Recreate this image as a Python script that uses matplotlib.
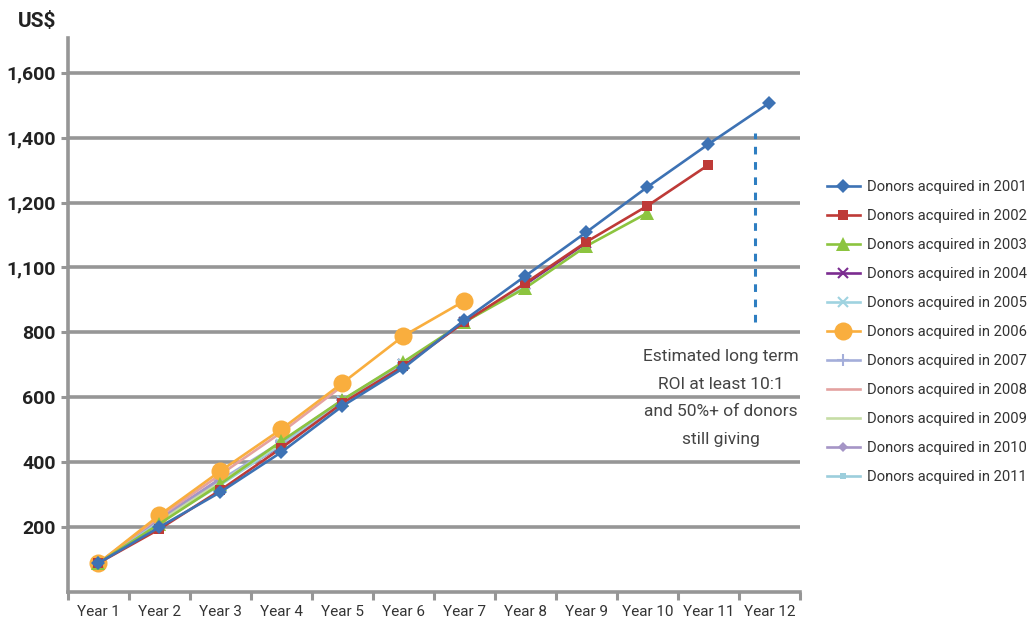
import matplotlib
matplotlib.use("Agg")
import matplotlib.pyplot as plt

plt.rcParams['font.family'] = ['Roboto', 'DejaVu Sans']

years = ['Year 1', 'Year 2', 'Year 3', 'Year 4', 'Year 5', 'Year 6',
         'Year 7', 'Year 8', 'Year 9', 'Year 10', 'Year 11', 'Year 12']

# cumulative value per donor cohort (US$)
d2001 = [89, 200, 308, 431, 573, 690, 838, 974, 1109, 1248, 1380, 1507]
d2002 = [89, 194, 314, 444, 582, 696, 832, 952, 1079, 1190, 1316]
d2003 = [89, 210, 333, 465, 592, 709, 832, 937, 1066, 1168]
d2004 = [89, 218, 335, 452, 586, 702, 832, 948, 1076]
d2005 = [89, 214, 330, 455, 588, 704, 832, 945]
d2006 = [89, 237, 373, 502, 644, 789, 897]
d2007 = [89, 222, 345, 462, 592, 706]
d2008 = [89, 232, 362, 492, 635]
d2009 = [89, 220, 338, 460]
d2010 = [89, 226, 350]
d2011 = [89, 215]

yticks = [200, 400, 600, 800, 1000, 1200, 1400, 1600]
ytick_labels = ['200', '400', '600', '800', '1,100', '1,200', '1,400', '1,600']

series = [
    ('Donors acquired in 2001', d2001, '#3D72B4', 'D', 7.5, 6),
    ('Donors acquired in 2002', d2002, '#BE3A37', 's', 7.5, 5),
    ('Donors acquired in 2003', d2003, '#8CC43F', '^', 9.5, 4),
    ('Donors acquired in 2004', d2004, '#7B2C90', 'x', 7, 2),
    ('Donors acquired in 2005', d2005, '#9FD3E0', 'x', 7, 2),
    ('Donors acquired in 2006', d2006, '#F9AE3E', 'o', 13, 3),
    ('Donors acquired in 2007', d2007, '#A4AEDA', '+', 9, 2),
    ('Donors acquired in 2008', d2008, '#E4A2A0', None, 0, 2.5),
    ('Donors acquired in 2009', d2009, '#C6DDA6', None, 0, 2),
    ('Donors acquired in 2010', d2010, '#A595C6', 'D', 5, 2),
    ('Donors acquired in 2011', d2011, '#9CCEDC', 's', 5, 2),
]

fig = plt.figure(figsize=(10.33, 6.19), dpi=100)
ax = fig.add_axes([0.0658, 0.0436, 0.7086, 0.895])

grey = '#969696'
for label, vals, color, marker, ms, z in series:
    ax.plot(range(len(vals)), vals, color=color, lw=1.9, marker=marker,
            markersize=ms, markeredgewidth=1.5 if marker in ('x', '+') else 0,
            label=label, zorder=z)

# dashed marker line for the long-term estimate
ax.plot([10.77, 10.77], [832, 1415], color='#2E7EC1', lw=2.2,
        linestyle=(0, (2.5, 2.5)), zorder=3)
ax.text(10.2, 598, 'Estimated long term\nROI at least 10:1\nand 50%+ of donors\nstill giving',
        ha='center', va='center', fontsize=12.5, color='#444444', linespacing=2.05)

ax.set_xlim(-0.5, 11.5)
ax.set_ylim(0, 1707)
ax.set_xticks(range(len(years)))
ax.set_xticklabels(years, fontsize=11, color='#333333')
ax.set_xticks([i - 0.5 for i in range(len(years) + 1)], minor=True)
ax.tick_params(axis='x', which='major', length=0, pad=9)
ax.tick_params(axis='x', which='minor', length=6, width=2.2, color=grey)
ax.set_yticks(yticks)
ax.set_yticklabels(ytick_labels, fontsize=14, fontweight='bold', color='#222222')
ax.tick_params(axis='y', length=5, width=2.2, color=grey, pad=4)

ax.grid(axis='y', color=grey, lw=2.6)
ax.set_axisbelow(True)
for side in ('top', 'right'):
    ax.spines[side].set_visible(False)
for side in ('left', 'bottom'):
    ax.spines[side].set_color(grey)
    ax.spines[side].set_linewidth(2.6)

fig.text(0.017, 0.965, 'US$', fontsize=15, fontweight='bold', color='#222222',
         va='center', ha='left')

ax.legend(loc='upper left', bbox_to_anchor=(0.788, 0.731), bbox_transform=fig.transFigure,
          frameon=False, fontsize=10.6, labelspacing=1.02, handlelength=2.2,
          handletextpad=0.5, labelcolor='#333333')

fig.savefig('out.png', dpi=100)
